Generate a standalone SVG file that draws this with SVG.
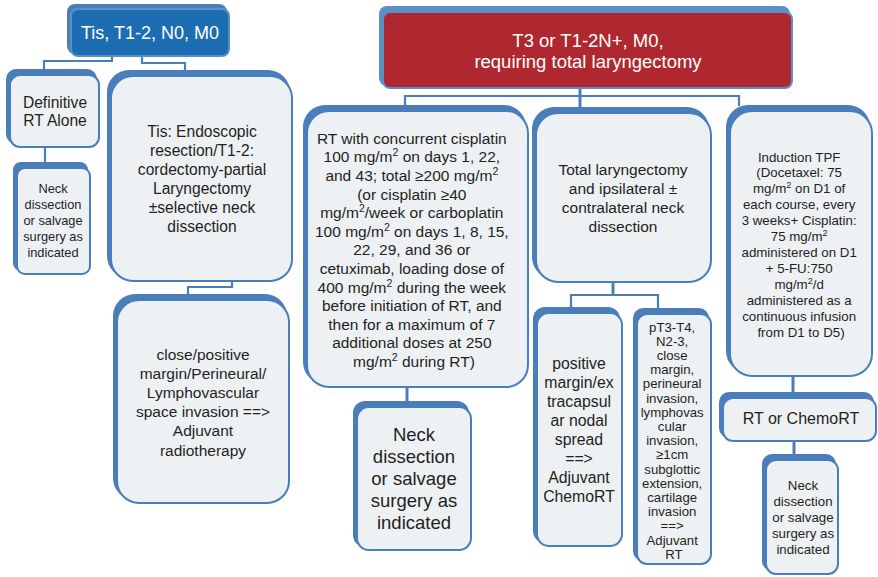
<svg xmlns="http://www.w3.org/2000/svg" width="878" height="577" viewBox="0 0 878 577">
  <style>
    .shadow { fill: #4a7ebb; }
    .card { fill: #eef1f3; stroke: #4a7ebb; stroke-width: 2; }
    .t { font-family: "Liberation Sans", Arial, Helvetica, sans-serif; fill: #231f20; text-anchor: middle; }
    .w { fill: #ffffff; }
    .sup { font-size: 0.68em; }
    .wire { fill: none; stroke: #4a7ebb; stroke-width: 2.2; }
    .trunk { fill: none; stroke: #4a7ebb; stroke-width: 3; }
  </style>
  <rect width="878" height="577" fill="#ffffff"/>

  <!-- connectors -->
  <g id="connectors">
    <path class="wire" d="M112 56 V61 H44 V70"/>
    <path class="wire" d="M142 56 V63 H185 V71"/>
    <path class="wire" d="M45 147 V163"/>
    <path class="wire" d="M232 281 V287 H188 V295"/>
    <path class="trunk" d="M580 88 V108"/>
    <path class="wire" d="M405 106 V96 H739 V106"/>
    <path class="trunk" d="M407 387 V402"/>
    <path class="trunk" d="M613 282 V295"/>
    <path class="wire" d="M571 309 V295 H658 V309"/>
    <path class="trunk" d="M793 376 V393"/>
    <path class="trunk" d="M794 441 V455"/>
  </g>

  <!-- early stage header -->
  <g id="early-stage">
    <rect class="shadow" x="67" y="4" width="160" height="50" rx="8"/>
    <rect x="71" y="9" width="158" height="47" rx="7" fill="#1d6db2" stroke="#5b8fc8" stroke-width="2"/>
    <text class="t w" x="150" y="38.5" font-size="18">Tis, T1-2, N0, M0</text>
  </g>

  <g id="definitive-rt">
    <rect class="shadow" x="6" y="69" width="91" height="75" rx="10"/>
    <rect class="card" x="10" y="75" width="89" height="72" rx="10"/>
    <text class="t" font-size="15.6"><tspan x="55" y="107.5">Definitive</tspan><tspan x="55" y="126">RT Alone</tspan></text>
  </g>

  <g id="neck-left">
    <rect class="shadow" x="13" y="162" width="75" height="109" rx="8"/>
    <rect class="card" x="17" y="168" width="73" height="106" rx="8"/>
    <text class="t" font-size="12.8"><tspan x="53" y="193">Neck</tspan><tspan x="53" y="209">dissection</tspan><tspan x="53" y="225">or salvage</tspan><tspan x="53" y="241">surgery as</tspan><tspan x="53" y="257">indicated</tspan></text>
  </g>

  <g id="endoscopic">
    <rect class="shadow" x="107" y="70" width="183" height="208" rx="22"/>
    <rect class="card" x="111" y="76" width="181" height="205" rx="22"/>
    <text class="t" font-size="15.6"><tspan x="202" y="136.5">Tis: Endoscopic</tspan><tspan x="202" y="155.5">resection/T1-2:</tspan><tspan x="202" y="174.5">cordectomy-partial</tspan><tspan x="202" y="193.5">Laryngectomy</tspan><tspan x="202" y="212.5">±selective neck</tspan><tspan x="202" y="231.5">dissection</tspan></text>
  </g>

  <g id="close-positive">
    <rect class="shadow" x="113" y="294" width="174" height="206" rx="22"/>
    <rect class="card" x="117" y="300" width="172" height="203" rx="22"/>
    <text class="t" font-size="15.5"><tspan x="203" y="359.5">close/positive</tspan><tspan x="203" y="378.7">margin/Perineural/</tspan><tspan x="203" y="397.9">Lymphovascular</tspan><tspan x="203" y="417.1">space invasion ==&gt;</tspan><tspan x="203" y="436.3">Adjuvant</tspan><tspan x="203" y="455.5">radiotherapy</tspan></text>
  </g>

  <!-- advanced stage header -->
  <g id="advanced-stage">
    <rect x="379" y="6" width="411" height="80" rx="8" fill="#5b8fc8"/>
    <rect x="383" y="12" width="409" height="76" rx="7" fill="#b0282f" stroke="#5b8fc8" stroke-width="2"/>
    <text class="t w" font-size="18.5"><tspan x="588" y="46.5">T3 or T1-2N+, M0,</tspan><tspan x="588" y="67.5">requiring total laryngectomy</tspan></text>
  </g>

  <g id="concurrent-rt">
    <rect class="shadow" x="303" y="105" width="223" height="279" rx="22"/>
    <rect class="card" x="307" y="111" width="221" height="276" rx="22"/>
    <text class="t" font-size="15.5">
      <tspan x="414" y="143.8">RT with concurrent cisplatin</tspan>
      <tspan x="414" y="162.4">100 mg/m<tspan class="sup" dy="-6">2</tspan><tspan dy="6"> on days 1, 22,</tspan></tspan>
      <tspan x="414" y="181">and 43; total ≥200 mg/m<tspan class="sup" dy="-6">2</tspan></tspan>
      <tspan x="414" y="199.6">(or cisplatin ≥40</tspan>
      <tspan x="414" y="218.2">mg/m<tspan class="sup" dy="-6">2</tspan><tspan dy="6">/week or carboplatin</tspan></tspan>
      <tspan x="414" y="236.8">100 mg/m<tspan class="sup" dy="-6">2</tspan><tspan dy="6"> on days 1, 8, 15,</tspan></tspan>
      <tspan x="414" y="255.4">22, 29, and 36 or</tspan>
      <tspan x="414" y="274">cetuximab, loading dose of</tspan>
      <tspan x="414" y="292.6">400 mg/m<tspan class="sup" dy="-6">2</tspan><tspan dy="6"> during the week</tspan></tspan>
      <tspan x="414" y="311.2">before initiation of RT, and</tspan>
      <tspan x="414" y="329.8">then for a maximum of 7</tspan>
      <tspan x="414" y="348.4">additional doses at 250</tspan>
      <tspan x="414" y="367">mg/m<tspan class="sup" dy="-6">2</tspan><tspan dy="6"> during RT)</tspan></tspan>
    </text>
  </g>

  <g id="neck-middle">
    <rect class="shadow" x="353" y="401" width="116" height="146" rx="12"/>
    <rect class="card" x="357" y="407" width="114" height="143" rx="12"/>
    <text class="t" font-size="18.5"><tspan x="414" y="440.5">Neck</tspan><tspan x="414" y="462.5">dissection</tspan><tspan x="414" y="484.5">or salvage</tspan><tspan x="414" y="506.5">surgery as</tspan><tspan x="414" y="528.5">indicated</tspan></text>
  </g>

  <g id="total-laryngectomy">
    <rect class="shadow" x="532" y="107" width="177" height="172" rx="22"/>
    <rect class="card" x="536" y="113" width="175" height="169" rx="22"/>
    <text class="t" font-size="15.5"><tspan x="623" y="174.5">Total laryngectomy</tspan><tspan x="623" y="193.5">and ipsilateral ±</tspan><tspan x="623" y="212.5">contralateral neck</tspan><tspan x="623" y="231.5">dissection</tspan></text>
  </g>

  <g id="positive-margin">
    <rect class="shadow" x="533" y="307" width="87" height="236" rx="12"/>
    <rect class="card" x="537" y="313" width="85" height="233" rx="12"/>
    <text class="t" font-size="15.8"><tspan x="579" y="368.5">positive</tspan><tspan x="579" y="387.5">margin/ex</tspan><tspan x="579" y="406.5">tracapsul</tspan><tspan x="579" y="425.5">ar nodal</tspan><tspan x="579" y="444.5">spread</tspan><tspan x="579" y="463.5">==&gt;</tspan><tspan x="579" y="482.5">Adjuvant</tspan><tspan x="579" y="501.5">ChemoRT</tspan></text>
  </g>

  <g id="pathologic-risk">
    <rect class="shadow" x="633" y="308" width="76" height="253" rx="10"/>
    <rect class="card" x="637" y="314" width="74" height="250" rx="10"/>
    <text class="t" font-size="13.2">
      <tspan x="674" y="331.5">pT3-T4,</tspan>
      <tspan x="674" y="345.7">N2-3,</tspan>
      <tspan x="674" y="359.9">close</tspan>
      <tspan x="674" y="374.1">margin,</tspan>
      <tspan x="674" y="388.3">perineural</tspan>
      <tspan x="674" y="402.5">invasion,</tspan>
      <tspan x="674" y="416.7">lymphovas</tspan>
      <tspan x="674" y="430.9">cular</tspan>
      <tspan x="674" y="445.1">invasion,</tspan>
      <tspan x="674" y="459.3">≥1cm</tspan>
      <tspan x="674" y="473.5">subglottic</tspan>
      <tspan x="674" y="487.7">extension,</tspan>
      <tspan x="674" y="501.9">cartilage</tspan>
      <tspan x="674" y="516.1">invasion</tspan>
      <tspan x="674" y="530.3">==&gt;</tspan>
      <tspan x="674" y="544.5">Adjuvant</tspan>
      <tspan x="674" y="558.7">RT</tspan>
    </text>
  </g>

  <g id="induction-tpf">
    <rect class="shadow" x="726" y="105" width="144" height="268" rx="22"/>
    <rect class="card" x="730" y="111" width="142" height="265" rx="22"/>
    <text class="t" font-size="13.3">
      <tspan x="801" y="161.5">Induction TPF</tspan>
      <tspan x="801" y="177.4">(Docetaxel: 75</tspan>
      <tspan x="801" y="193.4">mg/m<tspan class="sup" dy="-5">2</tspan><tspan dy="5"> on D1 of</tspan></tspan>
      <tspan x="801" y="209.3">each course, every</tspan>
      <tspan x="801" y="225.2">3 weeks+ Cisplatin:</tspan>
      <tspan x="801" y="241.2">75 mg/m<tspan class="sup" dy="-5">2</tspan></tspan>
      <tspan x="801" y="257.1">administered on D1</tspan>
      <tspan x="801" y="273">+ 5-FU:750</tspan>
      <tspan x="801" y="289">mg/m<tspan class="sup" dy="-5">2</tspan><tspan dy="5">/d</tspan></tspan>
      <tspan x="801" y="304.9">administered as a</tspan>
      <tspan x="801" y="320.8">continuous infusion</tspan>
      <tspan x="801" y="336.7">from D1 to D5)</tspan>
    </text>
  </g>

  <g id="rt-chemort">
    <rect class="shadow" x="719" y="392" width="155" height="46" rx="10"/>
    <rect class="card" x="723" y="398" width="153" height="43" rx="10"/>
    <text class="t" x="801" y="423.5" font-size="16">RT or ChemoRT</text>
  </g>

  <g id="neck-right">
    <rect class="shadow" x="762" y="454" width="74" height="117" rx="10"/>
    <rect class="card" x="766" y="460" width="72" height="114" rx="10"/>
    <text class="t" font-size="13.3"><tspan x="803" y="490">Neck</tspan><tspan x="803" y="506">dissection</tspan><tspan x="803" y="522">or salvage</tspan><tspan x="803" y="538">surgery as</tspan><tspan x="803" y="554">indicated</tspan></text>
  </g>
</svg>
